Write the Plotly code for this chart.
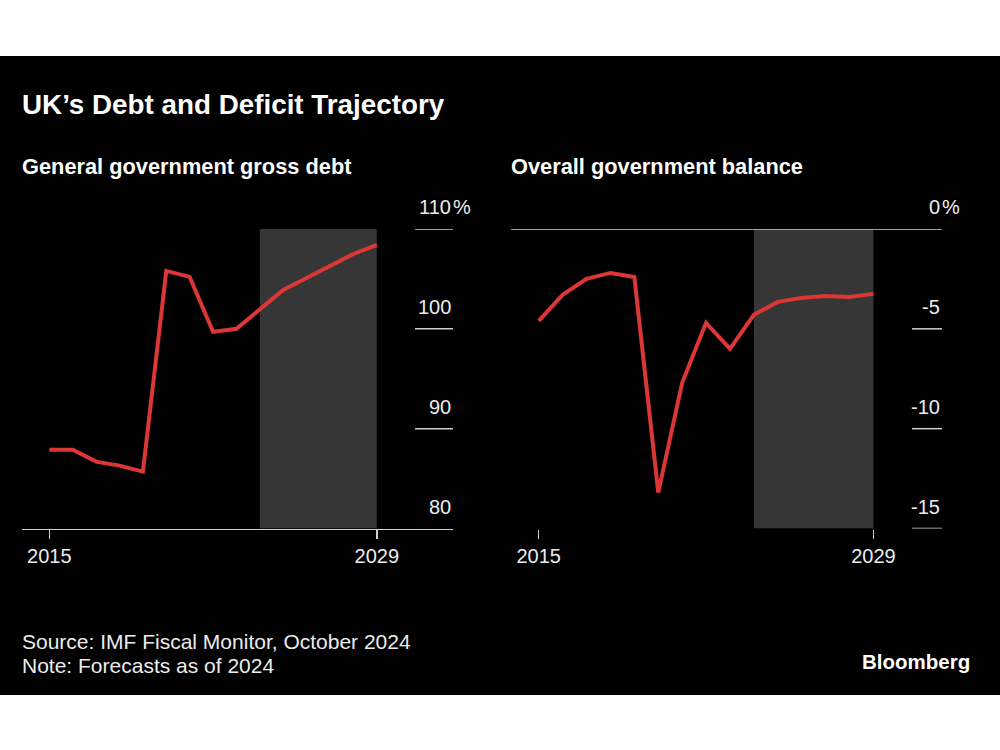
import plotly.graph_objects as go

# ---- data ----
years = list(range(2015, 2030))
debt = [87.9, 87.9, 86.7, 86.3, 85.7, 105.8, 105.2, 99.7, 100.0, 101.9,
        103.9, 105.1, 106.3, 107.5, 108.4]
balance = [-4.6, -3.3, -2.5, -2.2, -2.4, -13.2, -7.7, -4.7, -6.0, -4.3,
           -3.65, -3.45, -3.35, -3.4, -3.25]
forecast_start = 2024
forecast_end = 2029
x_ticks = [2015, 2029]
debt_ticks = [80, 90, 100, 110]
balance_ticks = [-15, -10, -5, 0]

title = "UK’s Debt and Deficit Trajectory"
left_title = "General government gross debt"
right_title = "Overall government balance"
source = "Source: IMF Fiscal Monitor, October 2024"
note = "Note: Forecasts as of 2024"
brand = "Bloomberg"

# ---- styling ----
W, H = 1000, 750
FONT = "Liberation Sans"
RED = "#dc3636"
SHADE = "#363636"
RULE = "#cfcfcf"
TXT = "#ececec"


def px(x):
    return x / W


def py(y):
    return 1 - y / H


fig = go.Figure()
fig.add_trace(go.Scatter(x=years, y=debt, mode="lines",
                         line=dict(color=RED, width=4), xaxis="x", yaxis="y",
                         hoverinfo="skip"))
fig.add_trace(go.Scatter(x=years, y=balance, mode="lines",
                         line=dict(color=RED, width=4), xaxis="x2", yaxis="y2",
                         hoverinfo="skip"))

ydom = [py(528.5), py(229)]
xaxis_common = dict(tickmode="array", tickvals=x_ticks,
                    ticktext=[str(t) for t in x_ticks], ticks="outside",
                    ticklen=9, tickwidth=1.5, tickcolor=RULE,
                    tickfont=dict(family=FONT, size=20, color=TXT),
                    showgrid=False, zeroline=False, fixedrange=True)
fig.update_layout(
    width=W, height=H,
    margin=dict(l=0, r=0, t=0, b=0),
    paper_bgcolor="white",
    plot_bgcolor="rgba(0,0,0,0)",
    showlegend=False,
    xaxis=dict(domain=[px(22), px(453)], range=[2013.83, 2032.26],
               showline=True, linecolor=RULE, linewidth=1.5, anchor="y",
               **xaxis_common),
    yaxis=dict(domain=ydom, range=[80, 110], visible=False, anchor="x",
               fixedrange=True),
    xaxis2=dict(domain=[px(511), px(942)], range=[2013.84, 2031.87],
                showline=False, anchor="y2", **xaxis_common),
    yaxis2=dict(domain=ydom, range=[-15, 0], visible=False, anchor="x2",
                fixedrange=True),
)

shapes = [
    dict(type="rect", xref="paper", yref="paper", x0=0, x1=1,
         y0=py(695), y1=py(56), fillcolor="black", line=dict(width=0),
         layer="below"),
    dict(type="rect", xref="x", yref="y", x0=forecast_start, x1=forecast_end,
         y0=debt_ticks[0], y1=debt_ticks[-1], fillcolor=SHADE,
         line=dict(width=0), layer="below"),
    dict(type="rect", xref="x2", yref="y2", x0=forecast_start, x1=forecast_end,
         y0=balance_ticks[0], y1=balance_ticks[-1], fillcolor=SHADE,
         line=dict(width=0), layer="below"),
]
for v in debt_ticks[1:]:
    shapes.append(dict(type="line", xref="paper", yref="y", x0=px(415),
                       x1=px(453), y0=v, y1=v, line=dict(color=RULE, width=1.5)))
for v in balance_ticks:
    x0 = px(511) if v == 0 else px(912)
    shapes.append(dict(type="line", xref="paper", yref="y2", x0=x0,
                       x1=px(942), y0=v, y1=v, line=dict(color=RULE, width=1.5)))
fig.update_layout(shapes=shapes)

ann = []
YS = 9
for i, v in enumerate(debt_ticks):
    ann.append(dict(xref="paper", yref="y", x=px(453), y=v, xanchor="right",
                    yanchor="bottom", yshift=YS, showarrow=False, text=str(v),
                    font=dict(family=FONT, size=20, color=TXT)))
    if i == len(debt_ticks) - 1:
        ann.append(dict(xref="paper", yref="y", x=px(451), y=v, xanchor="left",
                        yanchor="bottom", yshift=YS, showarrow=False, text="%",
                        font=dict(family=FONT, size=20, color=TXT)))
for i, v in enumerate(balance_ticks):
    ann.append(dict(xref="paper", yref="y2", x=px(942), y=v, xanchor="right",
                    yanchor="bottom", yshift=YS, showarrow=False, text=str(v),
                    font=dict(family=FONT, size=20, color=TXT)))
    if i == len(balance_ticks) - 1:
        ann.append(dict(xref="paper", yref="y2", x=px(940), y=v, xanchor="left",
                        yanchor="bottom", yshift=YS, showarrow=False, text="%",
                        font=dict(family=FONT, size=20, color=TXT)))


def text(t, x, y, size, bold=False, anchor="left", color="white"):
    return dict(xref="paper", yref="paper", x=px(x), y=py(y), xanchor=anchor,
                yanchor="middle", showarrow=False, text=t,
                font=dict(family=FONT, size=size, color=color,
                          weight="bold" if bold else "normal"))


ann += [
    text(title, 20, 104, 27.8, bold=True),
    text(left_title, 20, 166, 21.8, bold=True),
    text(right_title, 509, 166, 21.8, bold=True),
    text(source, 20, 641, 21, color=TXT),
    text(note, 20, 665, 21, color=TXT),
    text(brand, 972, 661, 20.5, bold=True, anchor="right"),
]
fig.update_layout(annotations=ann)

fig.write_html(
    "out.html",
    config={"displayModeBar": False, "staticPlot": True},
    post_script="document.body.style.margin='0';"
                "document.body.style.overflow='hidden';",
)
